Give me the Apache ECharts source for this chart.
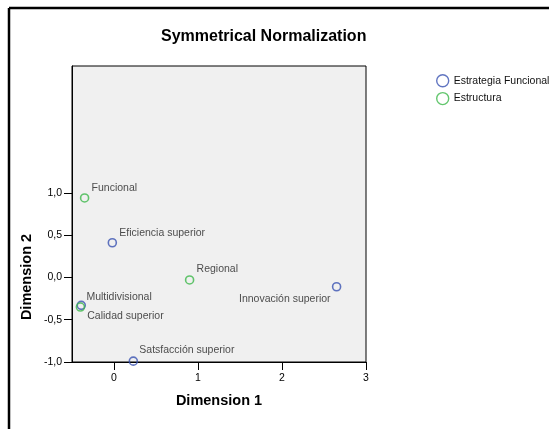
<!DOCTYPE html>
<html>
<head>
<meta charset="utf-8">
<script src="https://cdn.jsdelivr.net/npm/echarts@6/dist/echarts.min.js"></script>
<style>
  html, body { margin: 0; padding: 0; background: #fff; }
  #chart { width: 549px; height: 429px; }
</style>
</head>
<body>
<div id="chart"></div>
<script>
// Category points, Estrategia Funcional
const strategyNames = ['Eficiencia superior', 'Innovación superior', 'Calidad superior', 'Satsfacción superior'];
const strategyDim1 = [-0.02, 2.65, -0.39, 0.23];
const strategyDim2 = [0.41, -0.11, -0.33, -0.99];

// Category points, Estructura
const structureNames = ['Funcional', 'Regional', 'Multidivisional'];
const structureDim1 = [-0.35, 0.90, -0.40];
const structureDim2 = [0.94, -0.03, -0.35];

// Axis ticks
const xTicks = [0, 1, 2, 3];
const yTicks = [-1, -0.5, 0, 0.5, 1];

const seriesNames = ['Estrategia Funcional', 'Estructura'];
const colors = ['#3a52b2', '#3cb84a'];

// Label placement around each point: [dx, dy, align]
const labelPlacement = {
  'Eficiencia superior': [7, -10, 'left'],
  'Innovación superior': [-6, 12, 'right'],
  'Calidad superior': [6, 11, 'left'],
  'Satsfacción superior': [6, -11, 'left'],
  'Funcional': [7, -10, 'left'],
  'Regional': [7, -11, 'left'],
  'Multidivisional': [6, -10, 'left']
};

const FONT = 'Liberation Sans, Arial, Helvetica, sans-serif';
const fmt = v => v.toFixed(1).replace('.', ',');

function points(names, d1, d2) {
  return names.map((n, i) => {
    const p = labelPlacement[n];
    return {
      name: n,
      value: [d1[i], d2[i]],
      label: { offset: [p[0], p[1]], align: p[2] }
    };
  });
}

function scatter(idx, data) {
  return {
    name: seriesNames[idx],
    type: 'scatter',
    symbol: 'circle',
    symbolSize: 8,
    itemStyle: { color: 'transparent', borderColor: colors[idx], borderWidth: 1.6 },
    label: {
      show: true,
      position: 'inside',
      formatter: p => p.name,
      verticalAlign: 'middle',
      color: '#222',
      fontFamily: FONT,
      fontSize: 10.5
    },
    emphasis: { disabled: true },
    data: data
  };
}

const chart = echarts.init(document.getElementById('chart'), null, { renderer: 'canvas' });
chart.setOption({
  animation: false,
  backgroundColor: '#fff',
  title: {
    text: 'Symmetrical Normalization',
    left: 161,
    top: 29,
    padding: 0,
    textStyle: { fontFamily: FONT, fontWeight: 'bold', fontSize: 16, color: '#000' }
  },
  legend: {
    left: 436,
    top: 74,
    orient: 'vertical',
    itemWidth: 12,
    itemHeight: 12,
    itemGap: 4.5,
    padding: 0,
    textStyle: { fontFamily: FONT, fontSize: 10.5, color: '#111' },
    data: seriesNames.map((n, i) => ({
      name: n,
      icon: 'circle',
      itemStyle: { color: 'transparent', borderColor: colors[i], borderWidth: 1.4 }
    }))
  },
  grid: {
    left: 72, top: 66, width: 294, height: 296,
    show: true, backgroundColor: '#f0f0f0', borderColor: '#000', borderWidth: 1
  },
  xAxis: {
    type: 'value',
    min: -0.5, max: 3,
    name: 'Dimension 1',
    nameLocation: 'middle',
    nameGap: 31,
    nameTextStyle: { fontFamily: FONT, fontWeight: 'bold', fontSize: 14.5, color: '#000' },
    axisLine: { show: true, onZero: false, lineStyle: { color: '#000', width: 1 } },
    axisTick: { show: true, length: 8, customValues: xTicks, lineStyle: { color: '#000' } },
    axisLabel: { customValues: xTicks, margin: 11, formatter: v => String(v),
      fontFamily: FONT, fontSize: 10.5, color: '#000' },
    splitLine: { show: false }
  },
  yAxis: {
    type: 'value',
    min: -1, max: 2.5,
    axisLine: { show: true, onZero: false, lineStyle: { color: '#000', width: 1 } },
    axisTick: { show: true, length: 8, customValues: yTicks, lineStyle: { color: '#000' } },
    axisLabel: { customValues: yTicks, margin: 10, formatter: fmt,
      fontFamily: FONT, fontSize: 10.5, color: '#000' },
    splitLine: { show: false }
  },
  graphic: [
    { type: 'line', shape: { x1: 9, y1: 8, x2: 549, y2: 8 }, style: { stroke: '#000', lineWidth: 2.5 } },
    { type: 'line', shape: { x1: 9, y1: 8, x2: 9, y2: 429 }, style: { stroke: '#000', lineWidth: 2.5 } },
    {
      type: 'text',
      x: 27, y: 277,
      rotation: Math.PI / 2,
      style: {
        text: 'Dimension 2',
        font: 'bold 14.5px ' + FONT,
        fill: '#000',
        textAlign: 'center',
        textVerticalAlign: 'middle'
      }
    }
  ],
  series: [
    scatter(0, points(strategyNames, strategyDim1, strategyDim2)),
    scatter(1, points(structureNames, structureDim1, structureDim2))
  ]
});
</script>
</body>
</html>
